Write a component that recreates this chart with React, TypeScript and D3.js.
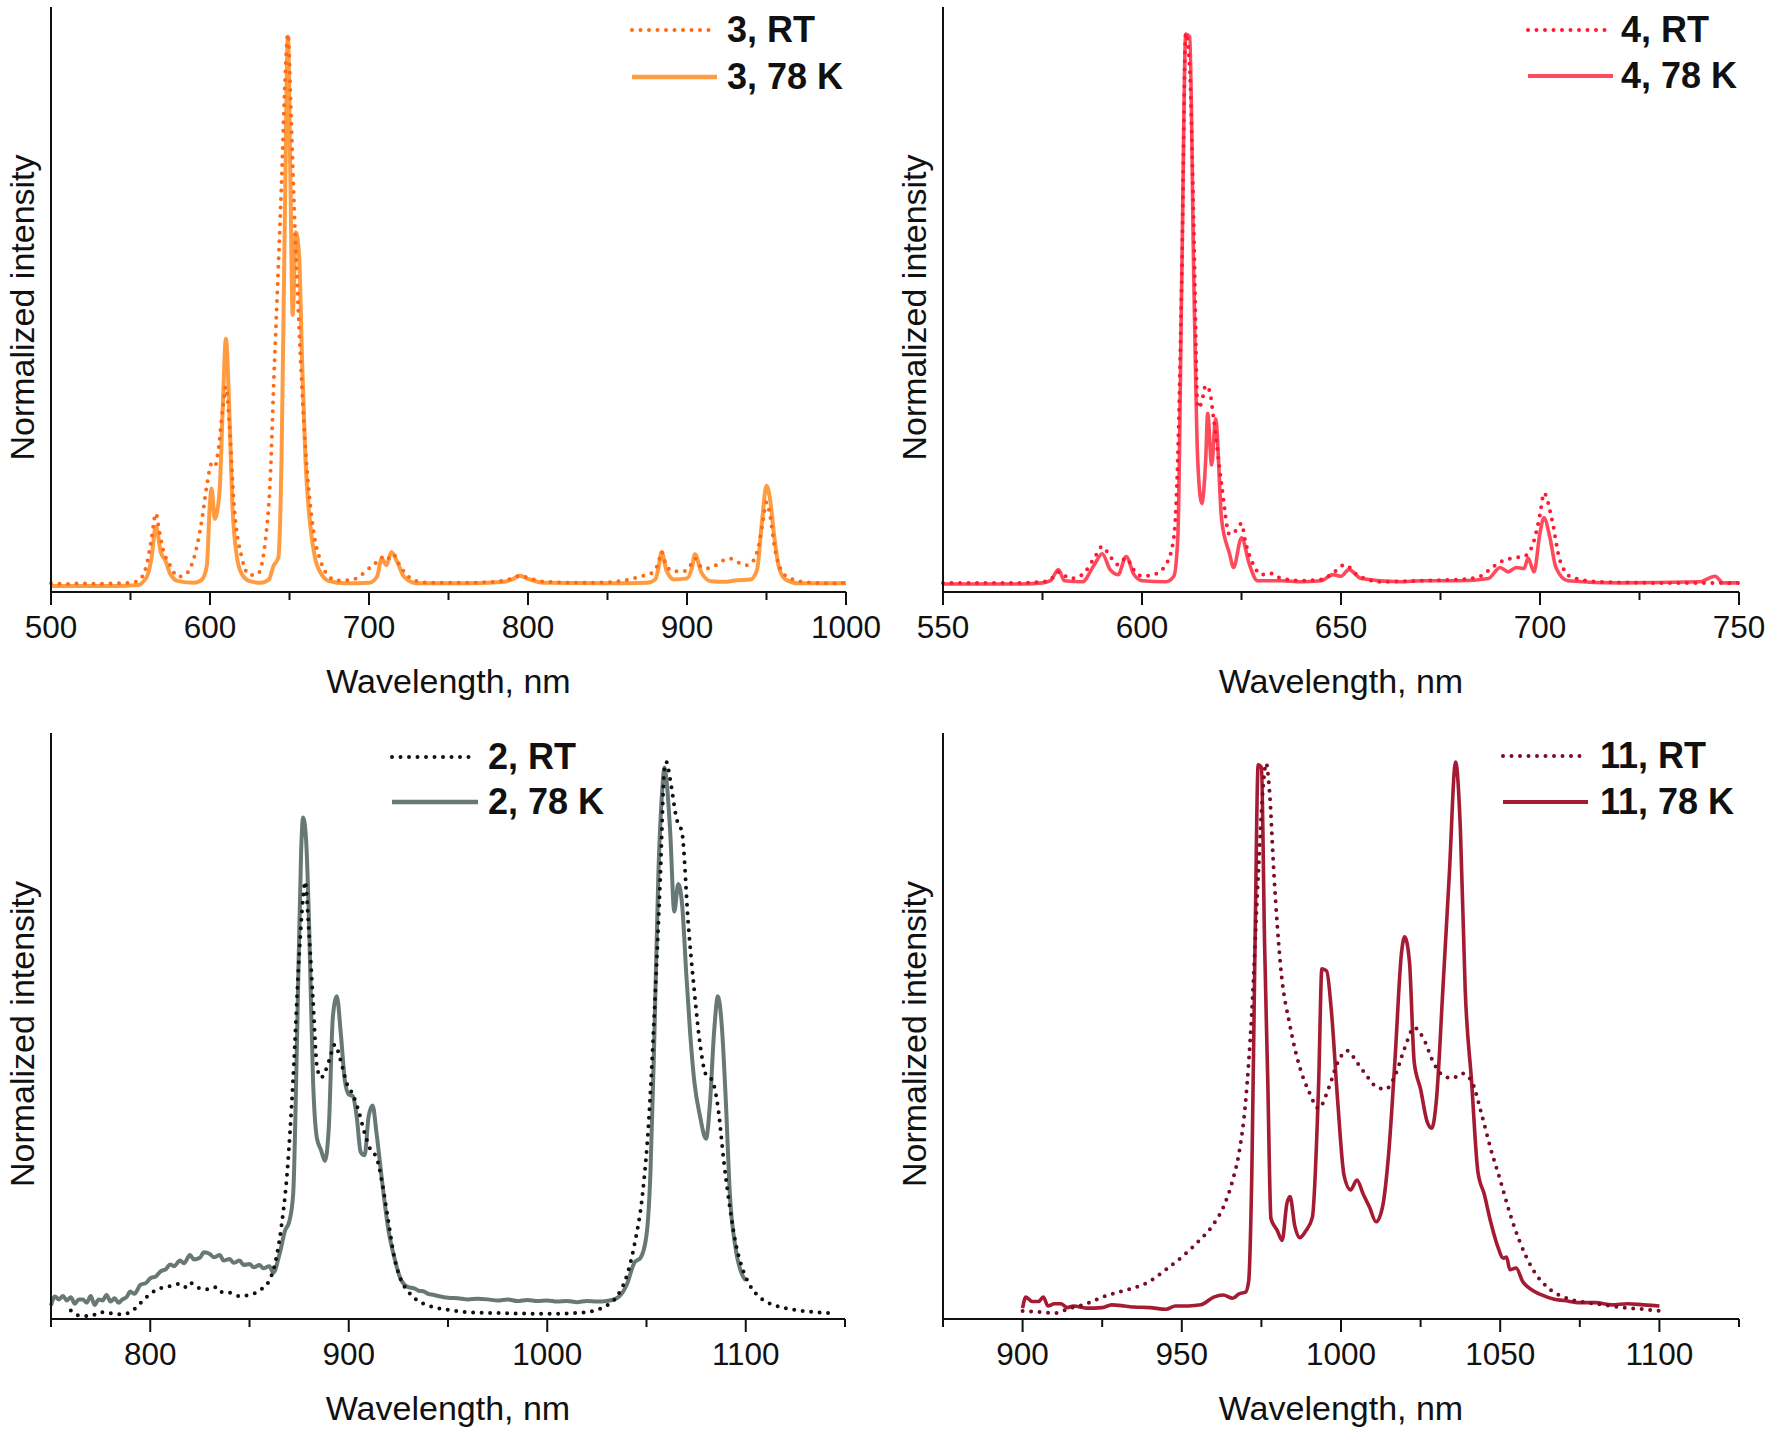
import React from 'react';
import * as d3 from 'd3';

type Pt = [number, number];

// ---------- Panel A: compound 3 (500-1000 nm) ----------
const p1Ticks = [500, 600, 700, 800, 900, 1000];
const p1Minor = [550, 650, 750, 850, 950];
const p1Labels = ['3, RT', '3, 78 K'];
const p1RT: Pt[] = [
  [500, 0.003], [510, 0.002], [520, 0.003], [530, 0.002], [540, 0.003], [550, 0.004], [555, 0.008], [560, 0.035],
  [563, 0.08], [566, 0.13], [568, 0.1], [570, 0.07], [575, 0.035], [580, 0.015], [585, 0.02], [590, 0.05],
  [595, 0.12], [598, 0.18], [601, 0.22], [603, 0.215], [605, 0.24], [608, 0.32], [610, 0.36], [612, 0.3],
  [615, 0.15], [620, 0.05], [625, 0.018], [630, 0.02], [635, 0.085], [638, 0.2], [640, 0.36], [643, 0.58],
  [645, 0.73], [647, 0.9], [649, 1.0], [651, 0.85], [653, 0.68], [656, 0.47], [660, 0.25], [665, 0.1],
  [670, 0.04], [675, 0.015], [680, 0.008], [690, 0.01], [695, 0.018], [700, 0.03], [705, 0.042], [708, 0.05],
  [711, 0.045], [715, 0.056], [720, 0.032], [725, 0.015], [730, 0.007], [740, 0.004], [760, 0.004], [780, 0.006],
  [790, 0.012], [795, 0.017], [800, 0.013], [810, 0.006], [830, 0.004], [850, 0.005], [860, 0.008], [870, 0.015],
  [878, 0.022], [882, 0.04], [884, 0.06], [887, 0.035], [892, 0.025], [898, 0.025], [902, 0.035], [905, 0.048],
  [908, 0.035], [912, 0.03], [916, 0.032], [920, 0.04], [927, 0.048], [933, 0.04], [938, 0.036], [942, 0.045],
  [945, 0.07], [948, 0.12], [950, 0.15], [952, 0.13], [955, 0.07], [960, 0.023], [965, 0.012], [970, 0.007],
  [980, 0.004], [990, 0.003], [1000, 0.004],
];
const p1K78: Pt[] = [
  [500, -0.002], [520, -0.002], [540, -0.002], [555, 0.0], [558, 0.006], [561, 0.02], [563, 0.045], [566, 0.106],
  [569, 0.06], [572, 0.044], [575, 0.02], [580, 0.007], [590, 0.004], [595, 0.01], [598, 0.035], [600, 0.15],
  [601, 0.175], [603, 0.12], [606, 0.17], [608, 0.32], [610, 0.447], [612, 0.33], [614, 0.15], [617, 0.05],
  [620, 0.02], [625, 0.007], [632, 0.004], [637, 0.01], [640, 0.035], [643, 0.05], [645, 0.23], [647, 0.65],
  [649, 0.995], [650.5, 0.75], [652, 0.49], [654, 0.64], [656, 0.6], [658, 0.4], [660, 0.23], [663, 0.11],
  [666, 0.05], [670, 0.02], [675, 0.007], [685, 0.003], [700, 0.004], [705, 0.015], [708, 0.048], [711, 0.036],
  [714, 0.06], [718, 0.04], [722, 0.015], [730, 0.003], [760, 0.003], [785, 0.006], [790, 0.01], [795, 0.017],
  [800, 0.011], [810, 0.004], [850, 0.003], [875, 0.004], [880, 0.01], [882, 0.03], [884, 0.06], [887, 0.027],
  [892, 0.01], [900, 0.012], [903, 0.03], [905, 0.056], [909, 0.023], [915, 0.007], [925, 0.006], [930, 0.008],
  [940, 0.01], [944, 0.027], [947, 0.11], [950, 0.18], [952, 0.16], [955, 0.085], [958, 0.03], [962, 0.01],
  [970, 0.003], [1000, 0.003],
];

// ---------- Panel B: compound 4 (550-750 nm) ----------
const p2Ticks = [550, 600, 650, 700, 750];
const p2Minor = [575, 625, 675, 725];
const p2Labels = ['4, RT', '4, 78 K'];
const p2RT: Pt[] = [
  [550, 0.002], [560, 0.002], [570, 0.002], [575, 0.004], [577, 0.008], [579, 0.022], [582, 0.01], [585, 0.017],
  [588, 0.047], [590, 0.068], [592, 0.05], [594, 0.035], [596, 0.047], [598, 0.025], [600, 0.014], [603, 0.017],
  [606, 0.035], [608, 0.084], [609, 0.23], [610, 0.56], [611, 1.0], [612, 0.935], [613, 0.65], [614, 0.32],
  [615, 0.33], [616, 0.36], [617, 0.35], [618, 0.3], [620, 0.18], [622, 0.09], [624, 0.1], [625, 0.11],
  [626, 0.076], [628, 0.035], [630, 0.017], [632, 0.02], [635, 0.01], [640, 0.006], [645, 0.008], [648, 0.02],
  [651, 0.035], [654, 0.017], [660, 0.004], [670, 0.006], [680, 0.008], [685, 0.014], [688, 0.03], [690, 0.04],
  [693, 0.047], [696, 0.05], [698, 0.068], [700, 0.126], [701, 0.165], [703, 0.117], [705, 0.043], [708, 0.012],
  [715, 0.004], [730, 0.002], [750, 0.002],
];
const p2K78: Pt[] = [
  [550, 0.0], [560, 0.0], [570, 0.0], [575, 0.002], [577, 0.006], [579, 0.026], [580.5, 0.006], [585, 0.004],
  [588, 0.035], [590, 0.055], [592, 0.026], [594, 0.017], [596, 0.05], [598, 0.017], [600, 0.006], [606, 0.004],
  [608, 0.014], [609, 0.084], [610, 0.56], [611, 0.998], [612, 0.993], [613, 0.56], [614, 0.225], [615, 0.146],
  [616, 0.225], [616.5, 0.31], [617.5, 0.216], [618.5, 0.3], [620, 0.117], [622, 0.055], [623, 0.03], [625, 0.084],
  [627, 0.035], [629, 0.006], [635, 0.006], [640, 0.004], [645, 0.006], [648, 0.017], [650, 0.014], [652, 0.026],
  [655, 0.01], [665, 0.004], [670, 0.006], [680, 0.006], [687, 0.01], [690, 0.03], [692, 0.022], [694, 0.03],
  [696, 0.028], [697, 0.047], [698.5, 0.022], [700, 0.093], [701, 0.12], [702.5, 0.084], [704, 0.03], [707, 0.006],
  [720, 0.002], [740, 0.004], [744, 0.014], [746, 0.002], [750, 0.002],
];

// ---------- Panel C: compound 2 (750-1150 nm) ----------
const p3Ticks = [800, 900, 1000, 1100];
const p3Minor = [750, 850, 950, 1050, 1150];
const p3Labels = ['2, RT', '2, 78 K'];
const p3RT: Pt[] = [
  [760, 0.01], [765, 0.0], [770, 0.0], [775, 0.007], [780, 0.005], [785, 0.003], [790, 0.007], [795, 0.023],
  [800, 0.04], [805, 0.05], [810, 0.054], [815, 0.058], [818, 0.052], [820, 0.06], [825, 0.05], [830, 0.048],
  [833, 0.052], [835, 0.044], [840, 0.042], [845, 0.036], [850, 0.038], [855, 0.046], [860, 0.064], [863, 0.097],
  [866, 0.16], [869, 0.26], [872, 0.43], [875, 0.65], [877, 0.755], [878, 0.784], [880, 0.69], [882, 0.57],
  [884, 0.45], [886, 0.43], [888, 0.44], [890, 0.46], [893, 0.49], [896, 0.46], [899, 0.42], [902, 0.4],
  [905, 0.37], [908, 0.33], [911, 0.3], [914, 0.286], [917, 0.237], [920, 0.17], [923, 0.105], [926, 0.068],
  [930, 0.044], [935, 0.027], [940, 0.019], [950, 0.011], [960, 0.007], [980, 0.005], [1000, 0.004], [1020, 0.007],
  [1025, 0.011], [1030, 0.019], [1035, 0.035], [1040, 0.072], [1044, 0.13], [1048, 0.22], [1051, 0.344], [1054, 0.55],
  [1057, 0.797], [1059, 0.986], [1060, 1.0], [1062, 0.967], [1065, 0.9], [1068, 0.87], [1071, 0.71], [1074, 0.59],
  [1077, 0.49], [1080, 0.435], [1083, 0.426], [1086, 0.377], [1089, 0.278], [1092, 0.196], [1095, 0.13], [1098, 0.089],
  [1102, 0.056], [1108, 0.031], [1115, 0.019], [1125, 0.011], [1135, 0.007], [1145, 0.005],
];
const p3K78: Pt[] = [
  [750, 0.019], [752, 0.035], [754, 0.03], [756, 0.036], [758, 0.028], [760, 0.034], [762, 0.022], [764, 0.03],
  [766, 0.03], [768, 0.024], [770, 0.036], [772, 0.02], [774, 0.03], [776, 0.028], [778, 0.038], [780, 0.026],
  [782, 0.032], [784, 0.024], [786, 0.03], [788, 0.034], [790, 0.044], [792, 0.04], [795, 0.056], [798, 0.06],
  [800, 0.068], [803, 0.072], [805, 0.08], [808, 0.085], [810, 0.093], [812, 0.09], [815, 0.1], [817, 0.095],
  [820, 0.11], [822, 0.102], [825, 0.105], [827, 0.115], [830, 0.112], [832, 0.106], [835, 0.11], [837, 0.1],
  [840, 0.103], [842, 0.096], [845, 0.1], [847, 0.092], [850, 0.094], [852, 0.088], [855, 0.092], [857, 0.086],
  [860, 0.09], [862, 0.078], [865, 0.11], [868, 0.155], [870, 0.17], [872, 0.22], [874, 0.51], [876, 0.838],
  [877, 0.9], [878.5, 0.86], [880, 0.71], [882, 0.426], [884, 0.32], [886, 0.3], [888, 0.28], [890, 0.344],
  [892, 0.54], [894, 0.577], [896, 0.51], [898, 0.426], [900, 0.4], [902, 0.397], [904, 0.36], [906, 0.296],
  [908, 0.29], [910, 0.36], [912, 0.38], [914, 0.33], [917, 0.237], [920, 0.155], [923, 0.105], [926, 0.068],
  [930, 0.052], [933, 0.05], [935, 0.046], [938, 0.044], [940, 0.04], [943, 0.038], [945, 0.036], [948, 0.034],
  [950, 0.033], [955, 0.032], [960, 0.03], [965, 0.031], [970, 0.03], [975, 0.028], [980, 0.03], [985, 0.027],
  [990, 0.029], [995, 0.027], [1000, 0.028], [1005, 0.026], [1010, 0.027], [1015, 0.025], [1020, 0.027], [1025, 0.026],
  [1030, 0.027], [1035, 0.032], [1040, 0.056], [1044, 0.097], [1047, 0.105], [1050, 0.146], [1052, 0.26], [1054, 0.51],
  [1056, 0.8], [1058, 0.953], [1059, 0.99], [1060, 0.97], [1062, 0.87], [1064, 0.73], [1066, 0.78], [1068, 0.74],
  [1070, 0.62], [1072, 0.51], [1074, 0.426], [1077, 0.36], [1080, 0.32], [1082, 0.385], [1084, 0.51], [1086, 0.577],
  [1088, 0.52], [1090, 0.385], [1092, 0.22], [1095, 0.12], [1098, 0.076], [1100, 0.064],
];

// ---------- Panel D: compound 11 (875-1125 nm) ----------
const p4Ticks = [900, 950, 1000, 1050, 1100];
const p4Minor = [875, 925, 975, 1025, 1075, 1125];
const p4Labels = ['11, RT', '11, 78 K'];
const p4RT: Pt[] = [
  [900, 0.002], [905, 0.0], [910, -0.002], [915, 0.007], [920, 0.015], [925, 0.027], [930, 0.036], [935, 0.044],
  [940, 0.056], [945, 0.077], [950, 0.1], [955, 0.127], [960, 0.16], [963, 0.19], [966, 0.24], [968, 0.29],
  [970, 0.38], [972, 0.546], [974, 0.794], [975.5, 0.952], [976.5, 0.998], [977.5, 0.95], [979, 0.79], [981, 0.63],
  [984, 0.52], [987, 0.446], [990, 0.4], [993, 0.37], [996, 0.405], [999, 0.454], [1002, 0.475], [1005, 0.454],
  [1008, 0.43], [1011, 0.41], [1014, 0.405], [1017, 0.43], [1020, 0.48], [1023, 0.517], [1026, 0.496], [1029, 0.454],
  [1032, 0.43], [1035, 0.425], [1038, 0.434], [1041, 0.42], [1044, 0.363], [1047, 0.297], [1050, 0.24], [1053, 0.18],
  [1056, 0.13], [1060, 0.08], [1065, 0.044], [1070, 0.027], [1075, 0.019], [1080, 0.015], [1085, 0.011], [1090, 0.007],
  [1095, 0.005], [1100, 0.002],
];
const p4K78: Pt[] = [
  [900, 0.007], [901, 0.027], [903, 0.019], [905, 0.019], [906.5, 0.027], [908, 0.011], [910, 0.015], [912, 0.015],
  [914, 0.008], [916, 0.011], [920, 0.007], [925, 0.008], [928, 0.013], [932, 0.011], [935, 0.009], [940, 0.008],
  [945, 0.005], [948, 0.011], [952, 0.011], [956, 0.013], [960, 0.027], [963, 0.031], [966, 0.025], [968, 0.033],
  [970, 0.036], [971, 0.056], [972, 0.255], [973, 0.67], [974, 0.995], [975, 0.99], [976, 0.67], [977, 0.42],
  [978, 0.17], [980, 0.148], [981.5, 0.13], [983, 0.197], [984, 0.21], [985.5, 0.156], [987, 0.135], [989, 0.148],
  [991, 0.172], [993, 0.42], [994, 0.624], [995.5, 0.62], [997, 0.546], [999, 0.38], [1001, 0.247], [1003, 0.222],
  [1005, 0.24], [1007, 0.214], [1009, 0.19], [1011, 0.164], [1013, 0.19], [1015, 0.29], [1017, 0.463], [1019, 0.653],
  [1020, 0.682], [1021.5, 0.637], [1023, 0.454], [1025, 0.405], [1027, 0.347], [1028.5, 0.334], [1030, 0.388], [1032, 0.587],
  [1034, 0.794], [1036, 1.0], [1037.5, 0.877], [1039, 0.587], [1041, 0.42], [1043, 0.255], [1045, 0.214], [1047, 0.164],
  [1049, 0.123], [1051, 0.098], [1052, 0.1], [1053, 0.077], [1055, 0.08], [1057, 0.056], [1060, 0.04], [1063, 0.031],
  [1067, 0.023], [1070, 0.021], [1075, 0.017], [1080, 0.017], [1085, 0.013], [1090, 0.015], [1095, 0.013], [1100, 0.011],
];

interface PanelCfg {
  domain: [number, number];
  left: number; right: number; top: number; axisY: number;
  yZero: number; yOne: number;
  ticks: number[]; minor: number[];
  rt: Pt[]; k78: Pt[]; labels: string[];
  rtColor: string; kColor: string; kWidth: number;
  legX: number; legRtEnd: number; legKEnd: number; legTextX: number; legY1: number; legY2: number;
}

const FONT = '"Liberation Sans", Arial, Helvetica, sans-serif';

const panels: PanelCfg[] = [
  { domain: [500, 1000], left: 51, right: 846, top: 7, axisY: 592, yZero: 585, yOne: 34,
    ticks: p1Ticks, minor: p1Minor, rt: p1RT, k78: p1K78, labels: p1Labels,
    rtColor: '#ff6a12', kColor: '#ff9c42', kWidth: 4,
    legX: 632, legRtEnd: 710, legKEnd: 717, legTextX: 727, legY1: 30, legY2: 77 },
  { domain: [550, 750], left: 943, right: 1739, top: 7, axisY: 592, yZero: 584, yOne: 33,
    ticks: p2Ticks, minor: p2Minor, rt: p2RT, k78: p2K78, labels: p2Labels,
    rtColor: '#ff1a33', kColor: '#ff4a5e', kWidth: 3.6,
    legX: 1528, legRtEnd: 1607, legKEnd: 1613, legTextX: 1621, legY1: 30, legY2: 76 },
  { domain: [750, 1150], left: 51, right: 845, top: 733, axisY: 1319, yZero: 1316, yOne: 762,
    ticks: p3Ticks, minor: p3Minor, rt: p3RT, k78: p3K78, labels: p3Labels,
    rtColor: '#111111', kColor: '#687876', kWidth: 4,
    legX: 392, legRtEnd: 471, legKEnd: 478, legTextX: 488, legY1: 757, legY2: 802 },
  { domain: [875, 1125], left: 943, right: 1739, top: 733, axisY: 1319, yZero: 1312, yOne: 762,
    ticks: p4Ticks, minor: p4Minor, rt: p4RT, k78: p4K78, labels: p4Labels,
    rtColor: '#7a0c24', kColor: '#a51b34', kWidth: 3.6,
    legX: 1503, legRtEnd: 1583, legKEnd: 1588, legTextX: 1600, legY1: 756, legY2: 802 },
];

function Panel({ c }: { c: PanelCfg }) {
  const x = d3.scaleLinear().domain(c.domain).range([c.left, c.right]);
  const y = d3.scaleLinear().domain([0, 1]).range([c.yZero, c.yOne]);
  const line = d3.line<Pt>().x(d => x(d[0])).y(d => y(d[1])).curve(d3.curveMonotoneX);
  const dotted = { strokeDasharray: '0 8.5', strokeLinecap: 'round' as const };
  const midY = (c.top + c.axisY) / 2 + 8;
  const midX = (c.left + c.right) / 2;
  return (
    <g>
      <path d={line(c.k78) || ''} fill="none" stroke={c.kColor} strokeWidth={c.kWidth} strokeLinejoin="round" />
      <path d={line(c.rt) || ''} fill="none" stroke={c.rtColor} strokeWidth={4} {...dotted} />
      <line x1={c.left} x2={c.left} y1={c.top} y2={c.axisY} stroke="#111" strokeWidth={2} />
      <line x1={c.left} x2={c.right} y1={c.axisY} y2={c.axisY} stroke="#111" strokeWidth={2} />
      {c.ticks.map(t => (
        <g key={'t' + t}>
          <line x1={x(t)} x2={x(t)} y1={c.axisY} y2={c.axisY + 13} stroke="#111" strokeWidth={2} />
          <text x={x(t)} y={c.axisY + 46} textAnchor="middle" fontSize={31.5} fontFamily={FONT} fill="#111">{t}</text>
        </g>
      ))}
      {c.minor.map(t => (
        <line key={'m' + t} x1={x(t)} x2={x(t)} y1={c.axisY} y2={c.axisY + 8} stroke="#111" strokeWidth={2} />
      ))}
      <text x={midX} y={c.axisY + 101} textAnchor="middle" fontSize={34} fontFamily={FONT} fill="#111">Wavelength, nm</text>
      <text transform={`translate(${c.left - 17},${midY}) rotate(-90)`} textAnchor="middle" fontSize={34}
        fontFamily={FONT} fill="#111">Normalized intensity</text>
      <line x1={c.legX} x2={c.legRtEnd} y1={c.legY1} y2={c.legY1} stroke={c.rtColor} strokeWidth={4} {...dotted} />
      <line x1={c.legX} x2={c.legKEnd} y1={c.legY2} y2={c.legY2} stroke={c.kColor} strokeWidth={c.kWidth + 0.6} />
      <text x={c.legTextX} y={c.legY1 + 12} fontSize={36} fontWeight="bold" fontFamily={FONT} fill="#111">{c.labels[0]}</text>
      <text x={c.legTextX} y={c.legY2 + 12} fontSize={36} fontWeight="bold" fontFamily={FONT} fill="#111">{c.labels[1]}</text>
    </g>
  );
}

export default function App() {
  return (
    <svg width={1772} height={1429} style={{ position: 'absolute', left: 0, top: 0, background: '#fff' }}>
      <rect x={0} y={0} width={1772} height={1429} fill="#fff" />
      {panels.map((c, i) => <Panel key={i} c={c} />)}
    </svg>
  );
}
